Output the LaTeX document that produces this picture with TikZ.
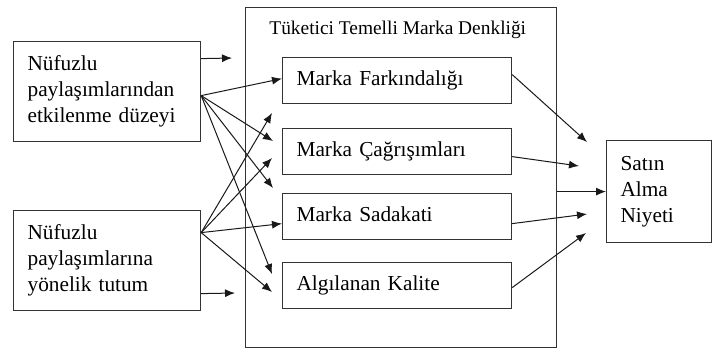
\documentclass[tikz,border=0pt]{standalone}
\usepackage{fontspec}
\setmainfont{Liberation Serif}
\usetikzlibrary{arrows.meta}
\begin{document}
\begin{tikzpicture}[x=0.5pt,y=-0.5pt,
  box/.style={draw=black!80, line width=0.6pt, rectangle, anchor=north west, inner ysep=0pt, inner xsep=7pt, align=left, font=\fontsize{10.65}{13}\selectfont},
  conn/.style={line width=0.5pt, draw=black!90, -{Latex[length=5pt,width=4pt]}}]
\useasboundingbox (0,0) rectangle (712,350);
% containers
\node[box, minimum width=155.5pt, minimum height=170pt] (big) at (245,7) {};
\node[anchor=base west, inner sep=0pt, font=\fontsize{9.7}{12}\selectfont] (title) at (269,34) {Tüketici Temelli Marka Denkliği};
% inner boxes
\node[box, minimum height=23pt, text width=100.5pt, text height=0.7em, text depth=0.22em] (A) at (282,57) {Marka Farkındalığı};
\node[box, minimum height=23pt, text width=100.5pt, text height=0.7em, text depth=0.22em] (B) at (282,128) {Marka Çağrışımları};
\node[box, minimum height=23pt, text width=100.5pt, text height=0.7em, text depth=0.22em] (C) at (282,193) {Marka Sadakati};
\node[box, minimum height=23pt, text width=100.5pt, text height=0.7em, text depth=0.22em] (D) at (282,262) {Algılanan Kalite};
% left boxes
\node[box, minimum height=50pt, text width=79.5pt] (L1) at (13,41) {Nüfuzlu\\paylaşımlarından\\etkilenme düzeyi};
\node[box, minimum height=50pt, text width=79.5pt] (L2) at (13,210) {Nüfuzlu\\paylaşımlarına\\yönelik tutum};
% right box
\node[box, minimum height=51pt, text width=38.5pt] (S) at (606,140) {Satın\\Alma\\Niyeti};
% free ends
\coordinate (e1) at (232,58);
\coordinate (e2) at (235,293);
\coordinate (f1) at (273,141);
\coordinate (f2) at (273,188);
\coordinate (f3) at (272,274);
\coordinate (g1) at (272,113);
\coordinate (g2) at (272,158);
\coordinate (g3) at (272,292);
\coordinate (h1) at (587,142);
\coordinate (h2) at (579,166);
\coordinate (h3) at (587,214);
\coordinate (h4) at (586,233);
% short arrows
\draw[conn] ([yshift=16.5pt]L1.east) -- (e1);
\draw[conn] ([yshift=-16.5pt]L2.east) -- (e2);
% from L1
\draw[conn] ([yshift=-2pt]L1.east) -- ([yshift=1pt]A.west);
\draw[conn] ([yshift=-2pt]L1.east) -- (f1);
\draw[conn] ([yshift=-2pt]L1.east) -- (f2);
\draw[conn] ([yshift=-2pt]L1.east) -- (f3);
% from L2
\draw[conn] ([yshift=14pt]L2.east) -- (g1);
\draw[conn] ([yshift=14pt]L2.east) -- (g2);
\draw[conn] ([yshift=14pt]L2.east) -- ([yshift=-3.5pt]C.west);
\draw[conn] ([yshift=14pt]L2.east) -- (g3);
% to S
\draw[conn] ([yshift=3pt]A.east) -- (h1);
\draw[conn] ([yshift=-2.5pt]B.east) -- (h2);
\draw[conn] (big.east |- S.west) -- (S.west);
\draw[conn] ([yshift=-3.5pt]C.east) -- (h3);
\draw[conn] ([yshift=-1pt]D.east) -- (h4);
\end{tikzpicture}
\end{document}
